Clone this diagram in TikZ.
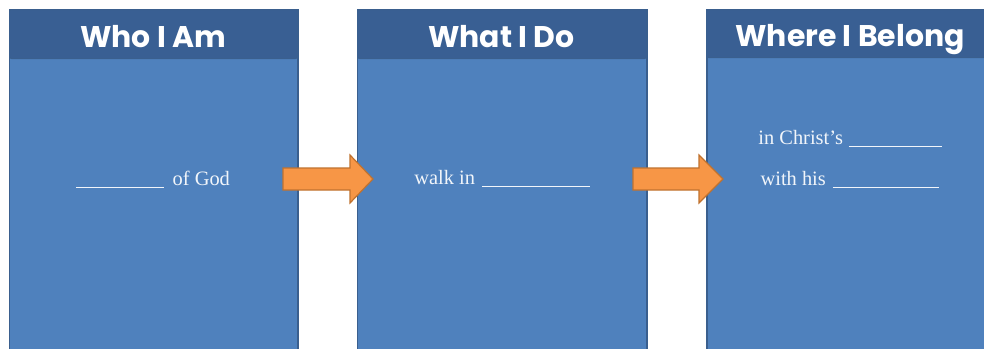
\documentclass[tikz,border=0pt]{standalone}
\usepackage{fontspec}
\setmainfont{Liberation Serif}
\newfontfamily\headfont{Poppins}
\definecolor{bodyblue}{HTML}{4F81BD}
\definecolor{headblue}{HTML}{395F93}
\definecolor{edgeblue}{HTML}{3A5F8E}
\definecolor{arroworange}{HTML}{F79646}
\definecolor{arrowedge}{HTML}{C0722F}
\tikzset{
  panel/.style={fill=bodyblue, draw=edgeblue, line width=1.5pt, anchor=north west, inner sep=0pt, minimum height=343bp},
  headbar/.style={fill=headblue, draw=edgeblue, line width=1pt, rounded corners=2pt, anchor=north west, inner sep=0pt},
  headtext/.style={text=white, font=\headfont\bfseries\fontsize{30}{32}\selectfont, anchor=base, inner sep=0pt},
  bodytext/.style={text=white!92!bodyblue, font=\fontsize{20.5}{22}\selectfont, anchor=base, inner sep=0pt},
  blockarrow/.style={fill=arroworange, draw=arrowedge, line width=1.2pt, line join=miter}
}
\newcommand{\blankline}[1]{\rule[-2.5pt]{#1pt}{0.9pt}}
\begin{document}
\begin{tikzpicture}[x=1bp,y=-1bp]
\useasboundingbox (0,0) rectangle (984,348);
\fill[white] (0,0) rectangle (984,348);
% panels
\node[panel, minimum width=288bp] (p1) at (9,9) {};
\node[panel, minimum width=289bp] (p2) at (357,9) {};
\node[panel, minimum width=289bp] (p3) at (706,9) {};
\node[headbar, minimum width=288bp, minimum height=49bp] (b1) at (9,9) {};
\node[headbar, minimum width=289bp, minimum height=49bp] (b2) at (357,9) {};
\node[headbar, minimum width=289bp, minimum height=48bp] (b3) at (706,9) {};
% headers
\node[headtext] (h1) at (153,47.5) {Who I Am};
\node[headtext] (h2) at (501.5,47.5) {What I Do};
\node[headtext] (h3) at (850,46.5) {Where I Belong};
% body texts
\node[bodytext] (t1) at (153,185) {\blankline{88}\hspace{9pt}of God};
\node[bodytext] (t2) at (502,184) {walk in\hspace{7pt}\blankline{108}};
\node[bodytext] (t3) at (850,144) {in Christ’s\hspace{6pt}\blankline{93}};
\node[bodytext] (t4) at (850,185) {with his\hspace{7pt}\blankline{107}};
% arrows
\draw[blockarrow] (283,168) -- (350,168) -- (350,155) -- (373,179) -- (350,203) -- (350,190) -- (283,190) -- cycle;
\draw[blockarrow] (633,168) -- (699,168) -- (699,155) -- (723,179) -- (699,203) -- (699,190) -- (633,190) -- cycle;
\end{tikzpicture}
\end{document}
